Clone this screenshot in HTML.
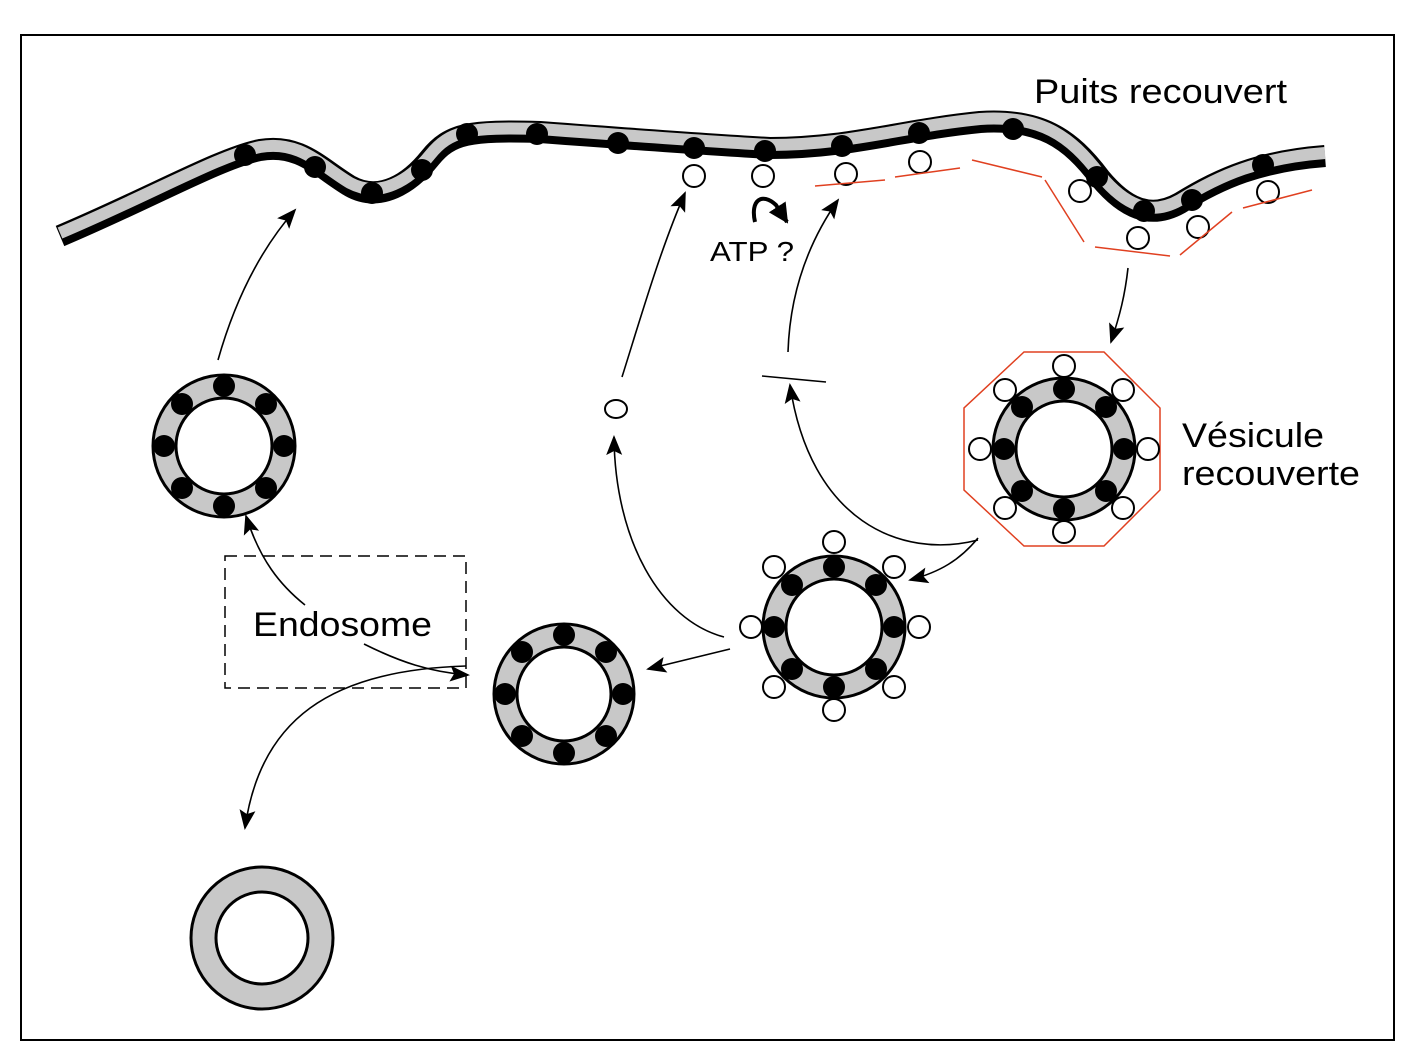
<!DOCTYPE html>
<html><head><style>body{margin:0;background:#fff}svg{display:block}</style></head><body>
<svg width="1413" height="1064" viewBox="0 0 1413 1064" xmlns="http://www.w3.org/2000/svg" font-family="Liberation Sans, sans-serif">
<defs>
<marker id="a" markerWidth="20" markerHeight="20" refX="18" refY="8" orient="auto" markerUnits="userSpaceOnUse" viewBox="0 0 20 16"><path d="M0,0 L20,8 L0,16 L4,8 z" fill="#000"/></marker>
<marker id="ab" markerWidth="20" markerHeight="20" refX="9" refY="5" orient="auto" viewBox="0 0 10 10" markerUnits="userSpaceOnUse"><path d="M0,0 L10,5 L0,10 z" fill="#000"/></marker>
</defs>
<rect x="21" y="35" width="1373" height="1005" fill="none" stroke="#000" stroke-width="2"/>
<!-- membrane -->
<path d="M60,236 C150,198 220,158 260,150 C300,143 320,168 350,186 C380,203 410,183 430,158 C450,133 470,130 540,132 C620,138 700,144 770,148 C850,148 900,130 980,122 C1040,118 1070,138 1100,178 C1125,208 1150,220 1180,203 C1220,178 1260,161 1325,156" fill="none" stroke="#000" stroke-width="22"/>
<path d="M60,233 C150,195 220,155 260,147 C300,140 320,165 350,183 C380,199 410,180 430,155 C450,130 470,127 540,129 C620,135 700,141 770,145 C850,145 900,127 980,119 C1040,115 1070,135 1100,175 C1125,205 1150,217 1180,200 C1220,175 1260,158 1325,153" fill="none" stroke="#c8c8c8" stroke-width="12"/>
<g fill="#000">
<circle cx="245" cy="155" r="11"/><circle cx="315" cy="167" r="11"/><circle cx="372" cy="193" r="11"/><circle cx="422" cy="170" r="11"/><circle cx="467" cy="134" r="11"/><circle cx="537" cy="134" r="11"/><circle cx="618" cy="143" r="11"/><circle cx="694" cy="148" r="11"/><circle cx="765" cy="151" r="11"/><circle cx="842" cy="146" r="11"/><circle cx="919" cy="133" r="11"/><circle cx="1013" cy="129" r="11"/><circle cx="1097" cy="177" r="11"/><circle cx="1144" cy="211" r="11"/><circle cx="1192" cy="200" r="11"/><circle cx="1263" cy="165" r="11"/>
</g>
<g fill="#fff" stroke="#000" stroke-width="2">
<circle cx="694" cy="176" r="11"/><circle cx="763" cy="176" r="11"/><circle cx="846" cy="174" r="11"/><circle cx="920" cy="162" r="11"/><circle cx="1080" cy="191" r="11"/><circle cx="1138" cy="238" r="11"/><circle cx="1198" cy="227" r="11"/><circle cx="1268" cy="192" r="11"/>
</g>
<g stroke="#e04020" stroke-width="1.5" fill="none">
<path d="M815,186 L885,180"/><path d="M895,177 L960,168"/><path d="M972,160 L1042,177"/><path d="M1045,180 L1084,242"/><path d="M1095,247 L1170,256"/><path d="M1180,255 L1232,212"/><path d="M1243,208 L1312,190"/>
<polygon points="1024,352 1104,352 1160,408 1160,490 1104,546 1024,546 964,490 964,408"/>
</g>
<g stroke="#000" stroke-width="3" fill="#c8c8c8">
<circle cx="224" cy="446" r="71"/><circle cx="564" cy="694" r="70"/><circle cx="834" cy="627" r="71"/><circle cx="1064" cy="449" r="71"/><circle cx="262" cy="938" r="71"/>
</g>
<g stroke="#000" stroke-width="3" fill="#fff">
<circle cx="224" cy="446" r="48"/><circle cx="564" cy="694" r="47"/><circle cx="834" cy="627" r="48"/><circle cx="1064" cy="449" r="48"/><circle cx="262" cy="938" r="46"/>
</g>
<g fill="#000">
<circle cx="224" cy="386" r="11"/><circle cx="266" cy="404" r="11"/><circle cx="284" cy="446" r="11"/><circle cx="266" cy="488" r="11"/><circle cx="224" cy="506" r="11"/><circle cx="182" cy="488" r="11"/><circle cx="164" cy="446" r="11"/><circle cx="182" cy="404" r="11"/>
<circle cx="564" cy="635" r="11"/><circle cx="606" cy="652" r="11"/><circle cx="623" cy="694" r="11"/><circle cx="606" cy="736" r="11"/><circle cx="564" cy="753" r="11"/><circle cx="522" cy="736" r="11"/><circle cx="505" cy="694" r="11"/><circle cx="522" cy="652" r="11"/>
<circle cx="834" cy="567" r="11"/><circle cx="876" cy="585" r="11"/><circle cx="894" cy="627" r="11"/><circle cx="876" cy="669" r="11"/><circle cx="834" cy="687" r="11"/><circle cx="792" cy="669" r="11"/><circle cx="774" cy="627" r="11"/><circle cx="792" cy="585" r="11"/>
<circle cx="1064" cy="389" r="11"/><circle cx="1106" cy="407" r="11"/><circle cx="1124" cy="449" r="11"/><circle cx="1106" cy="491" r="11"/><circle cx="1064" cy="509" r="11"/><circle cx="1022" cy="491" r="11"/><circle cx="1004" cy="449" r="11"/><circle cx="1022" cy="407" r="11"/>
</g>
<g fill="#fff" stroke="#000" stroke-width="2">
<circle cx="834" cy="542" r="11"/><circle cx="894" cy="567" r="11"/><circle cx="919" cy="627" r="11"/><circle cx="894" cy="687" r="11"/><circle cx="834" cy="710" r="11"/><circle cx="774" cy="687" r="11"/><circle cx="751" cy="627" r="11"/><circle cx="774" cy="567" r="11"/>
<circle cx="1064" cy="366" r="11"/><circle cx="1123" cy="390" r="11"/><circle cx="1148" cy="449" r="11"/><circle cx="1123" cy="508" r="11"/><circle cx="1064" cy="532" r="11"/><circle cx="1005" cy="508" r="11"/><circle cx="980" cy="449" r="11"/><circle cx="1005" cy="390" r="11"/>
<ellipse cx="616" cy="409" rx="11" ry="9"/>
</g>
<rect x="225" y="556" width="241" height="132" fill="none" stroke="#000" stroke-width="1.5" stroke-dasharray="12,7"/>
<g fill="none" stroke="#000" stroke-width="1.6" marker-end="url(#a)">
<path d="M218,360 C235,300 260,250 295,210"/>
<path d="M305,605 C280,585 260,560 246,516"/>
<path d="M364,644 C400,662 430,672 468,675"/>
<path d="M466,666 C330,670 260,720 245,828"/>
<path d="M730,649 L648,669"/>
<path d="M724,637 C660,620 615,540 614,437"/>
<path d="M622,377 C640,320 660,250 685,193"/>
<path d="M978,538 C960,560 940,572 910,580"/>
<path d="M978,540 C900,560 810,520 790,385"/>
<path d="M788,352 C790,290 810,240 838,200"/>
<path d="M1128,268 C1125,295 1120,315 1111,342"/>
</g>
<path d="M762,376 L826,382" stroke="#000" stroke-width="1.6"/>
<path d="M755,222 C750,200 762,192 776,205 L787,222" fill="none" stroke="#000" stroke-width="4" marker-end="url(#ab)"/>
<g font-size="34" fill="#000">
<text x="1034" y="103" textLength="253" lengthAdjust="spacingAndGlyphs">Puits recouvert</text>
<text x="1182" y="447" textLength="142" lengthAdjust="spacingAndGlyphs">Vésicule</text>
<text x="1182" y="485" textLength="178" lengthAdjust="spacingAndGlyphs">recouverte</text>
<text x="253" y="636" textLength="179" lengthAdjust="spacingAndGlyphs">Endosome</text>
<text x="710" y="261" font-size="28" textLength="84" lengthAdjust="spacingAndGlyphs">ATP ?</text>
</g>
</svg>
</body></html>
